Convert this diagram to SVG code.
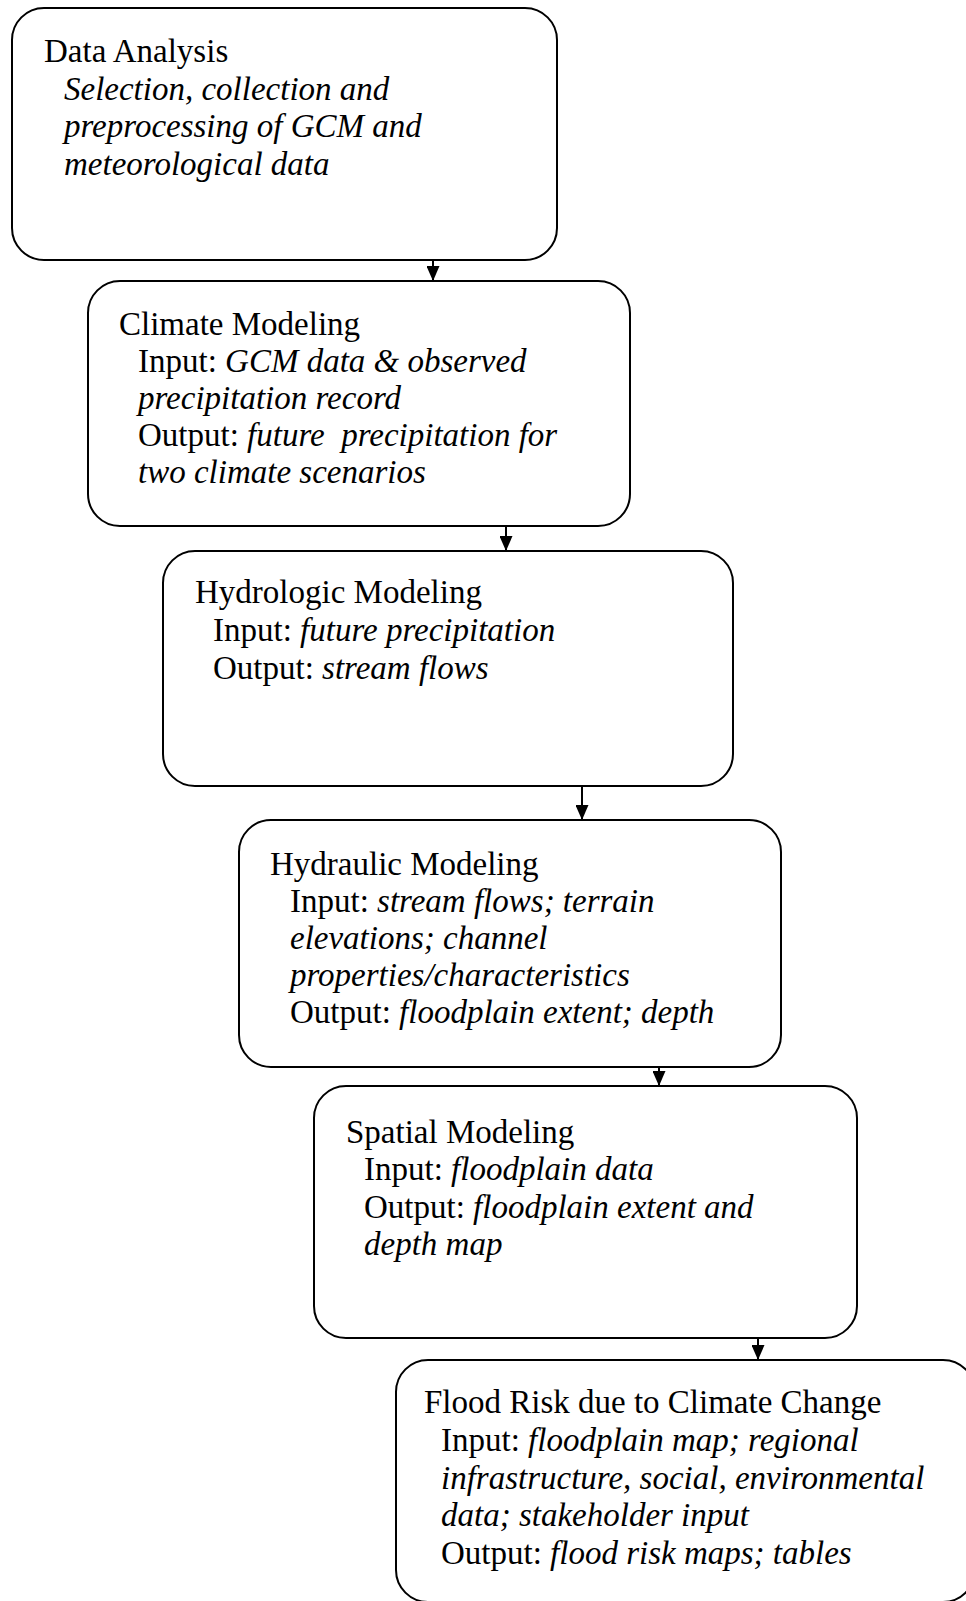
<svg xmlns="http://www.w3.org/2000/svg" width="966" height="1601" viewBox="0 0 966 1601">
<defs>
<style>
.box{fill:#fff;stroke:#000;stroke-width:2}
text{font-family:"Liberation Serif","Times New Roman",serif;font-size:33px;fill:#000}
.i{font-style:italic}
.c{stroke:#000;stroke-width:2;fill:none}
</style>
<marker id="ah" markerWidth="15" markerHeight="13" refX="15" refY="6.5" orient="auto" markerUnits="userSpaceOnUse" viewBox="0 0 15 13">
<path d="M0,0 L15,6.5 L0,13 Z" fill="#000"/>
</marker>
</defs>
<rect width="966" height="1601" fill="#fff"/>
<g id="connectors">
<line class="c" x1="433" y1="260" x2="433" y2="281" marker-end="url(#ah)"/>
<line class="c" x1="506" y1="526" x2="506" y2="551" marker-end="url(#ah)"/>
<line class="c" x1="582" y1="786" x2="582" y2="820" marker-end="url(#ah)"/>
<line class="c" x1="659" y1="1067" x2="659" y2="1086" marker-end="url(#ah)"/>
<line class="c" x1="758" y1="1338" x2="758" y2="1360" marker-end="url(#ah)"/>
</g>
<g id="node-data-analysis">
<rect class="box" x="12" y="8" width="545" height="252" rx="32"/>
<text x="44" y="62">Data Analysis</text>
<text class="i" x="64" y="99.5">Selection, collection and</text>
<text class="i" x="64" y="137">preprocessing of GCM and</text>
<text class="i" x="64" y="174.5">meteorological data</text>
</g>
<g id="node-climate-modeling">
<rect class="box" x="88" y="281" width="542" height="245" rx="32"/>
<text x="119" y="335">Climate Modeling</text>
<text x="138" y="372">Input: <tspan class="i">GCM data &amp; observed</tspan></text>
<text class="i" x="138" y="409">precipitation record</text>
<text x="138" y="446" xml:space="preserve">Output: <tspan class="i">future  precipitation for</tspan></text>
<text class="i" x="138" y="483">two climate scenarios</text>
</g>
<g id="node-hydrologic-modeling">
<rect class="box" x="163" y="551" width="570" height="235" rx="32"/>
<text x="195" y="603">Hydrologic Modeling</text>
<text x="213" y="641">Input: <tspan class="i">future precipitation</tspan></text>
<text x="213" y="679">Output: <tspan class="i">stream flows</tspan></text>
</g>
<g id="node-hydraulic-modeling">
<rect class="box" x="239" y="820" width="542" height="247" rx="32"/>
<text x="270" y="875">Hydraulic Modeling</text>
<text x="290" y="912">Input: <tspan class="i">stream flows; terrain</tspan></text>
<text class="i" x="290" y="949">elevations; channel</text>
<text class="i" x="290" y="986">properties/characteristics</text>
<text x="290" y="1023">Output: <tspan class="i">floodplain extent; depth</tspan></text>
</g>
<g id="node-spatial-modeling">
<rect class="box" x="314" y="1086" width="543" height="252" rx="32"/>
<text x="346" y="1143">Spatial Modeling</text>
<text x="364" y="1180">Input: <tspan class="i">floodplain data</tspan></text>
<text x="364" y="1218">Output: <tspan class="i">floodplain extent and</tspan></text>
<text class="i" x="364" y="1255">depth map</text>
</g>
<g id="node-flood-risk">
<rect class="box" x="396" y="1360" width="579" height="242" rx="32"/>
<text x="424" y="1413">Flood Risk due to Climate Change</text>
<text x="441" y="1451">Input: <tspan class="i">floodplain map; regional</tspan></text>
<text class="i" x="441" y="1489">infrastructure, social, environmental</text>
<text class="i" x="441" y="1526">data; stakeholder input</text>
<text x="441" y="1564">Output: <tspan class="i">flood risk maps; tables</tspan></text>
</g>
</svg>
